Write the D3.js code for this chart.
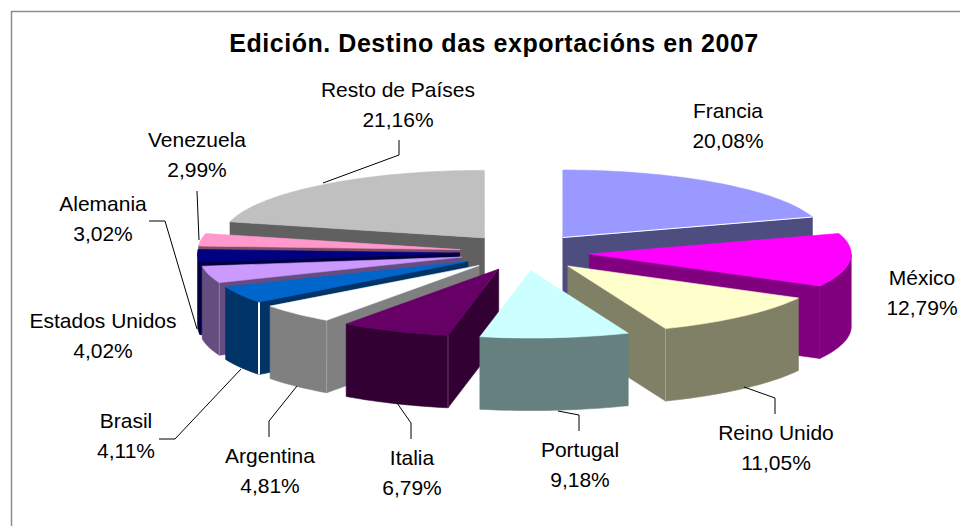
<!DOCTYPE html>
<html lang="gl">
<head>
<meta charset="utf-8">
<title>Edición. Destino das exportacións en 2007</title>
<script src="https://cdn.jsdelivr.net/npm/d3@7/dist/d3.min.js"></script>
<style>
html,body{margin:0;padding:0;background:#fff;}
svg{display:block;}
text{font-family:"Liberation Sans",Arial,sans-serif;fill:#000;}
</style>
</head>
<body>
<svg id="chart" width="960" height="526"></svg>
<script>
const chartTitle = "Edición. Destino das exportacións en 2007";
const categories = ["Francia","México","Reino Unido","Portugal","Italia","Argentina","Brasil","Estados Unidos","Alemania","Venezuela","Resto de Países"];
const shares = [20.08,12.79,11.05,9.18,6.79,4.81,4.11,4.02,3.02,2.99,21.16];
const topColors = ["#9999FF","#FF00FF","#FFFFCC","#CCFFFF","#660066","#FFFFFF","#0066CC","#CC99FF","#000080","#FF99CC","#C0C0C0"];
const wallColors = ["#4D4D80","#800080","#808066","#668080","#330033","#808080","#003366","#664D80","#000040","#804D66","#606060"];

// layout, separate from data
const W = 960, H = 526;
const cx = 524.5, cy = 252.3, Rx = 262, Ry = 67.5, depth = 72.5, explodeX = 65, explodeY = 18.3;
const labelCenters = [[728,118],[922,285],[776,440],[580,457],[412,465],[270,463],[126,428],[103,328],[103,211],[197,147],[398,97]];
const leaders = [null,null,
  [[775,414],[775,398],[744,387]],
  [[579,431],[579,415],[558,411]],
  [[411,439],[411,423],[397,403]],
  [[269,437],[269,421],[297,386]],
  [[159,439],[175,439],[241,369]],
  null,
  [[149,221],[165,221],[197,329]],
  [[197,191],[199,240]],
  [[399,140],[399,155],[323,183]]];
// how light the seam at a slice's front corner is (0 = none)
const seamLight = [0,0,0.25,0,0.25,0.25,1,0.3,0,0,0];
const seamWidth = [0,0,1,0,1,1,2,1,0,0,0];

const svg = d3.select("#chart");
svg.append("path").attr("d",`M${W},11.5H11.5V${H}`).attr("fill","none").attr("stroke","#8c8c8c").attr("stroke-width",1.5);
svg.append("text").attr("x",494).attr("y",52).attr("text-anchor","middle")
  .attr("font-size",25).attr("font-weight","bold").attr("letter-spacing",0.55).text(chartTitle);

const pie = d3.pie().sort(null).value(d=>d)(shares);
const sx = d3.scaleLinear().domain([-1,1]).range([-Rx,Rx]);
const sy = d3.scaleLinear().domain([-1,1]).range([-Ry,Ry]);
const line = d3.line();

function arcPts(o,a0,a1,dy){
  const n = Math.max(2,Math.ceil((a1-a0)/0.03));
  return d3.range(n+1).map(i=>{
    const a = a0+(a1-a0)*i/n;
    return [o[0]+sx(Math.sin(a)), o[1]-sy(Math.cos(a))+dy];
  });
}
function face(g,pts,fill){
  g.append("path").attr("d",line(pts)+"Z").attr("fill",fill).attr("stroke",fill).attr("stroke-width",0.6).attr("stroke-linejoin","round");
}

const slices = pie.map((p,i)=>{
  const mid = (p.startAngle+p.endAngle)/2;
  return {p,i,mid,o:[cx+explodeX*Math.sin(mid), cy-explodeY*Math.cos(mid)]};
});
const PI = Math.PI;
const order = slices.slice().sort((a,b)=>d3.descending(Math.cos(a.mid),Math.cos(b.mid)));
const gPie = svg.append("g");
order.forEach(s=>{
  const {p,i,o} = s, a0=p.startAngle, a1=p.endAngle;
  const g = gPie.append("g").attr("class","slice");
  const corner = a=>[o[0]+sx(Math.sin(a)), o[1]-sy(Math.cos(a))];
  const wallEdge = a=>{
    const c = corner(a);
    face(g,[o,c,[c[0],c[1]+depth],[o[0],o[1]+depth]],wallColors[i]);
  };
  if(a0>=PI) wallEdge(a0);
  if(a1<=PI) wallEdge(a1);
  const w0=Math.max(a0,PI/2), w1=Math.min(a1,3*PI/2);
  if(w1>w0) face(g,arcPts(o,w0,w1,0).concat(arcPts(o,w0,w1,depth).reverse()),wallColors[i]);
  if(seamWidth[i]){
    const c = corner(a0>=PI?a0:a1);
    g.append("path").attr("d",line([c,[c[0],c[1]+depth]])).attr("fill","none")
      .attr("stroke",d3.interpolateRgb(wallColors[i],"#fff")(seamLight[i])).attr("stroke-width",seamWidth[i]);
  }
  face(g,[o].concat(arcPts(o,a0,a1,0)),topColors[i]);
  if(i===0) g.append("path").attr("d",line([o,corner(a1)])).attr("fill","none").attr("stroke","#fff").attr("stroke-width",1);
});

const fmt = v=>v.toFixed(2).replace(".",",")+"%";
const gLab = svg.append("g");
leaders.forEach(l=>{
  if(l) gLab.append("path").attr("d",line(l)).attr("fill","none").attr("stroke","#000").attr("stroke-width",1);
});
categories.forEach((c,i)=>{
  const [x,y]=labelCenters[i];
  gLab.append("text").attr("x",x).attr("y",y).attr("text-anchor","middle").attr("font-size",21).text(c);
  gLab.append("text").attr("x",x).attr("y",y+30).attr("text-anchor","middle").attr("font-size",21).text(fmt(shares[i]));
});
</script>
</body>
</html>
